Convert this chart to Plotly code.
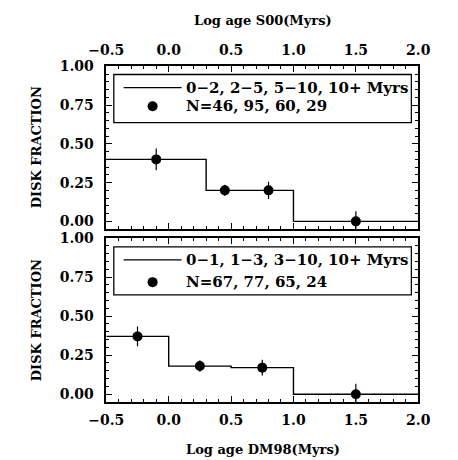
import plotly.graph_objects as go

# ---- data ----
# top panel (S00 ages)
top_edges = [-0.5, 0.3, 0.7, 1.0, 2.0]
top_frac = [0.40, 0.20, 0.20, 0.00]
top_pt_x = [-0.10, 0.45, 0.80, 1.50]
top_pt_y = [0.40, 0.20, 0.20, 0.00]
top_pt_err = [0.07, 0.037, 0.055, 0.065]
top_legend = ["0\u22122, 2\u22125, 5\u221210, 10+ Myrs", "N=46, 95, 60, 29"]

# bottom panel (DM98 ages)
bot_edges = [-0.5, 0.0, 0.5, 1.0, 2.0]
bot_frac = [0.37, 0.18, 0.17, 0.00]
bot_pt_x = [-0.25, 0.25, 0.75, 1.50]
bot_pt_y = [0.37, 0.18, 0.17, 0.00]
bot_pt_err = [0.063, 0.037, 0.05, 0.067]
bot_legend = ["0\u22121, 1\u22123, 3\u221210, 10+ Myrs", "N=67, 77, 65, 24"]

FONT = "DejaVu Serif"
W, H = 458, 460

fig = go.Figure()

def add_panel(edges, frac, px, py, perr, xr, yr):
    fig.add_trace(go.Scatter(
        x=edges, y=frac + [frac[-1]], mode="lines", line_shape="hv",
        line=dict(color="black", width=1.4), xaxis=xr, yaxis=yr,
        showlegend=False, hoverinfo="skip"))
    fig.add_trace(go.Scatter(
        x=px, y=py, mode="markers",
        marker=dict(color="black", size=10, symbol="circle"),
        error_y=dict(type="data", array=perr, color="black", thickness=1.2, width=0),
        xaxis=xr, yaxis=yr, showlegend=False))

add_panel(top_edges, top_frac, top_pt_x, top_pt_y, top_pt_err, "x", "y")
add_panel(bot_edges, bot_frac, bot_pt_x, bot_pt_y, bot_pt_err, "x2", "y2")

# legend boxes drawn manually
def add_legend(xr, yr, box_y0, box_y1, row1, row2, texts):
    fig.add_shape(type="rect", xref=xr, yref=yr, x0=-0.44, x1=1.945, y0=box_y0, y1=box_y1,
                  line=dict(color="black", width=1.3), fillcolor="rgba(0,0,0,0)")
    fig.add_shape(type="line", xref=xr, yref=yr, x0=-0.361, x1=0.103, y0=row1, y1=row1,
                  line=dict(color="black", width=1.2))
    fig.add_trace(go.Scatter(x=[-0.129], y=[row2], mode="markers",
                             marker=dict(color="black", size=10),
                             xaxis=xr, yaxis=yr, showlegend=False, hoverinfo="skip"))
    for t, yy in zip(texts, [row1, row2]):
        fig.add_annotation(text="<b>" + t + "</b>", xref=xr, yref=yr, x=0.125, y=yy, xanchor="left",
                           yanchor="middle", showarrow=False,
                           font=dict(family=FONT, size=15, color="black"))

add_legend("x", "y", 0.637, 0.948, 0.863, 0.743, top_legend)
add_legend("x2", "y2", 0.635, 0.943, 0.859, 0.717, bot_legend)

tickfont = dict(family=FONT, size=14, color="black", weight="bold")

def xaxis(side, anchor, showlabels):
    return dict(domain=[94.5 / W, 428.3 / W], range=[-0.5, 2.0], anchor=anchor, side=side,
                tickmode="linear", tick0=-0.5, dtick=0.5, tickformat=".1f",
                ticks="inside", ticklen=6, tickwidth=1.2, tickcolor="black",
                minor=dict(dtick=0.1, ticks="inside", ticklen=3, tickwidth=1, tickcolor="black"),
                showline=True, linecolor="black", linewidth=1.5, mirror="allticks",
                showgrid=False, zeroline=False, showticklabels=showlabels,
                tickfont=tickfont, ticklabelstandoff=4)

def yaxis(domain, anchor):
    return dict(domain=domain, range=[-0.05, 1.0], anchor=anchor,
                tickmode="linear", tick0=0, dtick=0.25, tickformat=".2f",
                ticks="inside", ticklen=6, tickwidth=1.2, tickcolor="black",
                minor=dict(dtick=0.05, ticks="inside", ticklen=3, tickwidth=1, tickcolor="black"),
                showline=True, linecolor="black", linewidth=1.5, mirror="allticks",
                showgrid=False, zeroline=False, tickfont=tickfont, ticklabelstandoff=8)

fig.update_layout(
    width=W, height=H, margin=dict(l=0, r=0, t=0, b=0),
    paper_bgcolor="white", plot_bgcolor="white",
    xaxis=xaxis("top", "y", True),
    yaxis=yaxis([1 - 225 / H, 1 - 59.5 / H], "x"),
    xaxis2=xaxis("bottom", "y2", True),
    yaxis2=yaxis([1 - 401 / H, 1 - 234 / H], "x2"),
)

titlefont = dict(family=FONT, size=13, color="black")
fig.add_annotation(text="<b>Log age S00(Myrs)</b>", xref="paper", yref="paper",
                   x=262 / W, y=1 - 13 / H, showarrow=False, xanchor="center", yanchor="middle",
                   font=titlefont)
fig.add_annotation(text="<b>Log age DM98(Myrs)</b>", xref="paper", yref="paper",
                   x=262 / W, y=1 - 449 / H, showarrow=False, xanchor="center", yanchor="middle",
                   font=titlefont)
for yc in [142, 318]:
    fig.add_annotation(text="<b>DISK FRACTION</b>", xref="paper", yref="paper",
                       x=20 / W, y=1 - yc / H, showarrow=False, textangle=-90,
                       xanchor="center", yanchor="middle", font=titlefont)

fig.write_html("out.html")
